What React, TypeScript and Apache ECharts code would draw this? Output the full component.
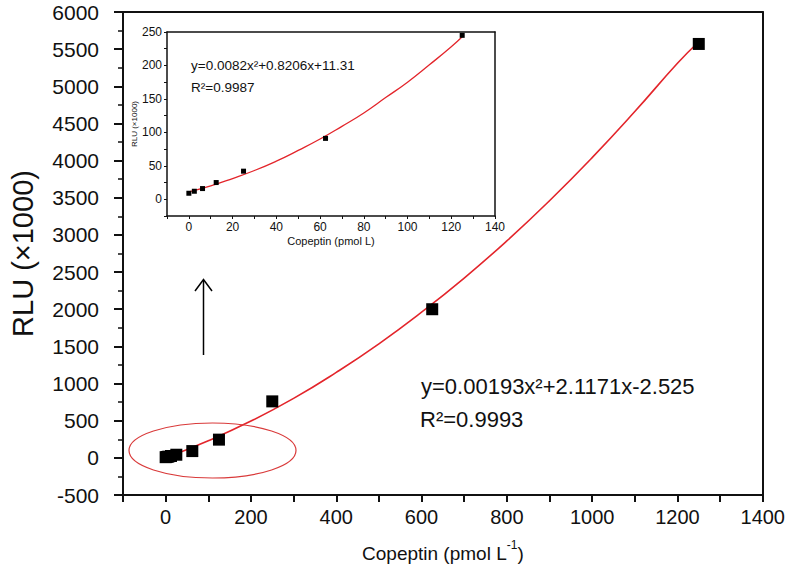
import React, { useEffect, useRef } from "react";
import * as echarts from "echarts";

// Measured points (main calibration): concentration (pmol/L) vs RLU (x1000)
const concentrations = [0, 2.5, 6.25, 12.5, 25, 62.5, 125, 250, 625, 1250];
const rluValues = [9, 12, 16, 25, 42, 91, 245, 760, 2000, 5570];

// Fitted curve
const fitX = [0, 100, 200, 300, 400, 500, 600, 700, 800, 900, 1000, 1100, 1200, 1250];
const fitY = [0, 230, 495, 800, 1150, 1535, 1960, 2420, 2920, 3460, 4040, 4660, 5310, 5600];

// Inset (low range) points
const insetConc = [0, 2.5, 6.25, 12.5, 25, 62.5, 125];
const insetRlu = [9, 12, 16, 25, 42, 91, 245];

// Inset fitted curve
const insetFitX = [0, 10, 20, 30, 40, 50, 60, 70, 80, 90, 100, 110, 120, 125];
const insetFitY = [11, 20, 31, 43, 57, 73, 90, 109, 129, 152, 175, 201, 228, 243];

const mainEquation = "y=0.00193x²+2.1171x-2.525";
const mainR2 = "R²=0.9993";
const insetEquation = "y=0.0082x²+0.8206x+11.31";
const insetR2 = "R²=0.9987";

const FONT = "'Liberation Sans', Arial, Helvetica, sans-serif";
const RED = "#e3252b";
const INK = "#111";

export default function App() {
  const ref = useRef<HTMLDivElement>(null);

  useEffect(() => {
    document.body.style.margin = "0";
    if (!ref.current) return;
    const chart = echarts.init(ref.current, undefined, { renderer: "svg" });

    const hiddenAxis = (gridIndex: number, position: string, min: number, max: number, lw: number) => ({
      type: "value",
      gridIndex,
      position,
      min,
      max,
      axisLine: { show: true, onZero: false, lineStyle: { color: INK, width: lw } },
      axisTick: { show: false },
      axisLabel: { show: false },
      splitLine: { show: false },
    });

    const option: any = {
      animation: false,
      backgroundColor: "#fff",
      textStyle: { fontFamily: FONT },
      grid: [
        { left: 119, right: 19, top: 12, bottom: 81 },
        { left: 167, right: 293, top: 32, bottom: 360 },
      ],
      xAxis: [
        {
          type: "value",
          gridIndex: 0,
          min: -100,
          max: 1400,
          interval: 100,
          name: "{a|Copeptin (pmol L}{s|-1}{a|)}",
          nameLocation: "middle",
          nameGap: 44,
          nameTextStyle: {
            rich: {
              a: { fontSize: 19, color: INK, fontFamily: FONT, verticalAlign: "bottom", lineHeight: 24 },
              s: { fontSize: 12, color: INK, fontFamily: FONT, verticalAlign: "top", lineHeight: 22 },
            },
          },
          axisLine: { onZero: false, lineStyle: { color: INK, width: 2 } },
          axisTick: { length: 7, lineStyle: { color: INK, width: 2 } },
          axisLabel: {
            formatter: (v: number) => (v % 200 === 0 ? String(v) : ""),
            fontSize: 20,
            color: INK,
            margin: 12,
            fontFamily: FONT,
          },
          splitLine: { show: false },
        },
        hiddenAxis(0, "top", -100, 1400, 2),
        {
          type: "value",
          gridIndex: 1,
          min: -10,
          max: 140,
          interval: 10,
          name: "Copeptin (pmol L)",
          nameLocation: "middle",
          nameGap: 19,
          nameTextStyle: { fontSize: 11, color: INK, fontFamily: FONT },
          axisLine: { onZero: false, lineStyle: { color: INK, width: 1.5 } },
          axisTick: { length: 3, lineStyle: { color: INK, width: 1 } },
          axisLabel: {
            formatter: (v: number) => (v % 20 === 0 ? String(v) : ""),
            fontSize: 12,
            color: INK,
            margin: 5,
            fontFamily: FONT,
          },
          splitLine: { show: false },
        },
        hiddenAxis(1, "top", -10, 140, 1.5),
      ],
      yAxis: [
        {
          type: "value",
          gridIndex: 0,
          min: -500,
          max: 6000,
          interval: 500,
          name: "RLU (×1000)",
          nameLocation: "middle",
          nameGap: 86,
          nameTextStyle: { fontSize: 29, color: INK, fontFamily: FONT },
          axisLine: { onZero: false, lineStyle: { color: INK, width: 2 } },
          axisTick: { length: 9, lineStyle: { color: INK, width: 2 } },
          minorTick: { show: true, splitNumber: 2, length: 5, lineStyle: { color: INK, width: 1.5 } },
          axisLabel: {
            formatter: (v: number) => String(v),
            fontSize: 21,
            color: INK,
            margin: 24,
            fontFamily: FONT,
          },
          splitLine: { show: false },
        },
        hiddenAxis(0, "right", -500, 6000, 2),
        {
          type: "value",
          gridIndex: 1,
          min: -25,
          max: 250,
          interval: 25,
          name: "RLU (×1000)",
          nameLocation: "middle",
          nameGap: 28,
          nameTextStyle: { fontSize: 8, color: INK, fontFamily: FONT },
          axisLine: { onZero: false, lineStyle: { color: INK, width: 1.5 } },
          axisTick: { length: 3, lineStyle: { color: INK, width: 1 } },
          axisLabel: {
            formatter: (v: number) => (v % 50 === 0 ? String(v) : ""),
            fontSize: 12,
            color: INK,
            margin: 5,
            fontFamily: FONT,
          },
          splitLine: { show: false },
        },
        hiddenAxis(1, "right", -25, 250, 1.5),
      ],
      series: [
        {
          type: "line",
          xAxisIndex: 0,
          yAxisIndex: 0,
          data: fitX.map((x, i) => [x, fitY[i]]),
          smooth: true,
          showSymbol: false,
          lineStyle: { color: RED, width: 1.6 },
          z: 2,
        },
        {
          type: "scatter",
          xAxisIndex: 0,
          yAxisIndex: 0,
          data: concentrations.map((x, i) => [x, rluValues[i]]),
          symbol: "rect",
          symbolSize: 12,
          itemStyle: { color: "#000", opacity: 1 },
          z: 3,
        },
        {
          type: "line",
          xAxisIndex: 2,
          yAxisIndex: 2,
          data: insetFitX.map((x, i) => [x, insetFitY[i]]),
          smooth: true,
          showSymbol: false,
          lineStyle: { color: RED, width: 1.3 },
          z: 2,
        },
        {
          type: "scatter",
          xAxisIndex: 2,
          yAxisIndex: 2,
          data: insetConc.map((x, i) => [x, insetRlu[i]]),
          symbol: "rect",
          symbolSize: 5,
          itemStyle: { color: "#000", opacity: 1 },
          z: 3,
        },
      ],
      graphic: [
        {
          type: "ellipse",
          shape: { cx: 212.5, cy: 450.5, rx: 83.5, ry: 27.5 },
          style: { fill: "none", stroke: "#d93a3a", lineWidth: 1.2 },
          z: 10,
        },
        {
          type: "line",
          shape: { x1: 203.5, y1: 355, x2: 203.5, y2: 280 },
          style: { stroke: "#000", lineWidth: 1.5 },
          z: 10,
        },
        {
          type: "polyline",
          shape: { points: [[195, 291], [203.5, 279.5], [212, 291]] },
          style: { stroke: "#000", lineWidth: 1.5, fill: "none" },
          z: 10,
        },
        {
          type: "text",
          left: 421,
          top: 375,
          style: { text: mainEquation, fontSize: 22, fill: INK, fontFamily: FONT },
          z: 10,
        },
        {
          type: "text",
          left: 420,
          top: 408,
          style: { text: mainR2, fontSize: 22, fill: INK, fontFamily: FONT },
          z: 10,
        },
        {
          type: "text",
          left: 191,
          top: 58,
          style: { text: insetEquation, fontSize: 13.5, fill: INK, fontFamily: FONT },
          z: 10,
        },
        {
          type: "text",
          left: 191,
          top: 80,
          style: { text: insetR2, fontSize: 13.5, fill: INK, fontFamily: FONT },
          z: 10,
        },
      ],
    };

    chart.setOption(option);
    return () => chart.dispose();
  }, []);

  return (
    <div
      ref={ref}
      style={{ position: "absolute", left: 0, top: 0, width: 788, height: 576 }}
    />
  );
}
